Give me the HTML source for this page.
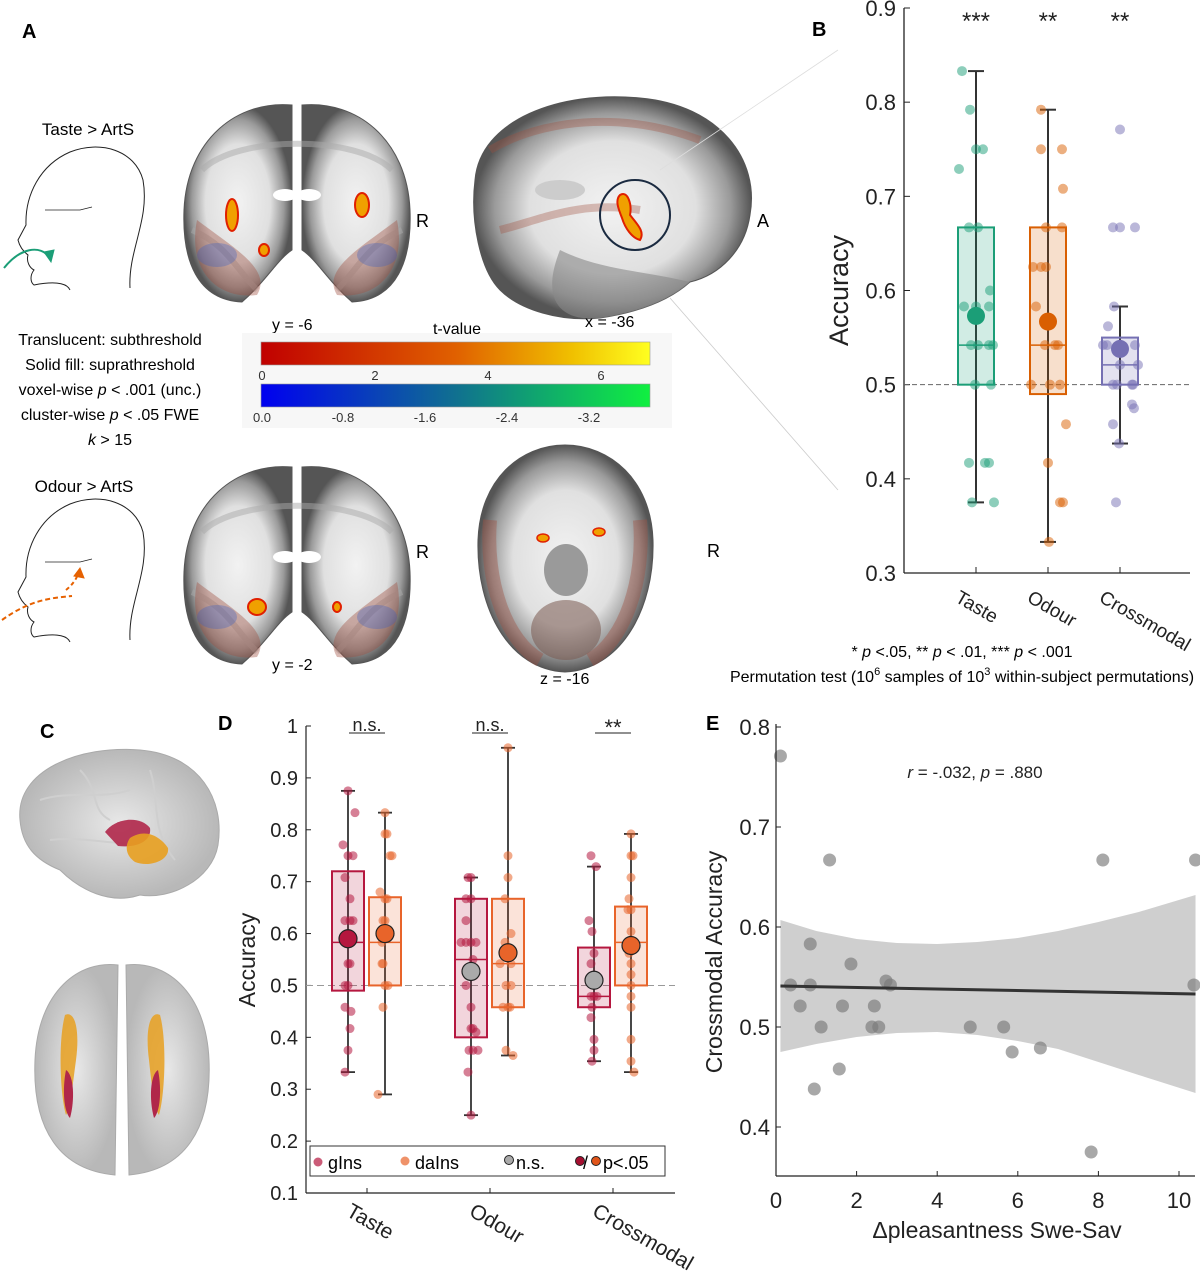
<!DOCTYPE html>
<html><head><meta charset="utf-8"><style>
html,body{margin:0;padding:0;background:#fff}
svg text{font-family:"Liberation Sans",Arial,sans-serif}
</style></head><body>
<svg id="fig" width="1200" height="1282" viewBox="0 0 1200 1282" xmlns="http://www.w3.org/2000/svg">
<defs>
<linearGradient id="hot" x1="0" x2="1"><stop offset="0" stop-color="#c00000"/><stop offset="0.5" stop-color="#e06000"/><stop offset="0.8" stop-color="#f0c000"/><stop offset="1" stop-color="#ffff20"/></linearGradient>
<linearGradient id="cool" x1="0" x2="1"><stop offset="0" stop-color="#0000f0"/><stop offset="0.5" stop-color="#107090"/><stop offset="1" stop-color="#10f040"/></linearGradient>
<radialGradient id="brainG"><stop offset="0" stop-color="#f2f2f2"/><stop offset="0.6" stop-color="#e0e0e0"/><stop offset="0.85" stop-color="#9a9a9a"/><stop offset="1" stop-color="#555"/></radialGradient>
<radialGradient id="glass"><stop offset="0" stop-color="#e8e8e8"/><stop offset="1" stop-color="#b8b8b8"/></radialGradient>
</defs>

<text x="22" y="38" font-size="20" font-weight="bold">A</text>
<text x="88" y="135" font-size="17" text-anchor="middle">Taste &gt; ArtS</text>
<g fill="none" stroke="#222" stroke-width="1">
<path d="M130,288 C128,250 150,220 143,180 C135,150 100,140 70,152 C40,165 25,195 26,225 L18,240 C20,248 24,252 28,255 C26,262 30,268 34,270 C30,275 30,282 34,285 C60,280 68,285 70,290"/>
<path d="M45,210 L80,210 L92,207" stroke-width="0.8"/>
<path d="M4,268 C20,248 40,244 50,258" stroke="#1b9e77" stroke-width="2"/>
<path d="M44,252 L51,262 L54,250 Z" fill="#1b9e77" stroke="#1b9e77"/>
</g>
<text x="110" y="345" font-size="16" text-anchor="middle">Translucent: subthreshold</text>
<text x="110" y="370" font-size="16" text-anchor="middle">Solid fill: suprathreshold</text>
<text x="110" y="395" font-size="16" text-anchor="middle">voxel-wise <tspan font-style="italic">p</tspan> &lt; .001 (unc.)</text>
<text x="110" y="420" font-size="16" text-anchor="middle">cluster-wise <tspan font-style="italic">p</tspan> &lt; .05 FWE</text>
<text x="110" y="445" font-size="16" text-anchor="middle"><tspan font-style="italic">k</tspan> &gt; 15</text>
<text x="84" y="492" font-size="17" text-anchor="middle">Odour &gt; ArtS</text>
<g fill="none" stroke="#222" stroke-width="1">
<path d="M130,640 C128,602 150,572 143,532 C135,502 100,492 70,504 C40,517 25,547 26,577 L18,592 C20,600 24,604 28,607 C26,614 30,620 34,622 C30,627 30,634 34,637 C60,632 68,637 70,642"/>
<path d="M45,562 L80,562 L92,559" stroke-width="0.8"/>
<path d="M2,620 C30,600 50,598 72,596" stroke="#e66101" stroke-width="2" stroke-dasharray="5,3"/>
<path d="M66,590 C72,585 76,580 78,574" stroke="#e66101" stroke-width="2" stroke-dasharray="4,3"/>
<path d="M74,576 L80,568 L84,578 Z" fill="#e66101" stroke="#e66101"/>
</g>

<g id="brains"></g>

<text x="272" y="330" font-size="16">y = -6</text>
<text x="585" y="327" font-size="16">x = -36</text>
<text x="416" y="227" font-size="18">R</text>
<text x="757" y="227" font-size="18">A</text>
<text x="416" y="558" font-size="18">R</text>
<text x="707" y="557" font-size="18">R</text>
<text x="272" y="670" font-size="16">y = -2</text>
<text x="540" y="684" font-size="16">z = -16</text>

<g>
<rect x="242" y="333" width="430" height="95" fill="#f7f7f7"/>
<text x="457" y="334" font-size="16" text-anchor="middle">t-value</text>
<rect x="261" y="342" width="389" height="23" fill="url(#hot)" stroke="#999" stroke-width="0.6"/>
<rect x="261" y="384" width="389" height="23" fill="url(#cool)" stroke="#999" stroke-width="0.6"/>
<g font-size="13" fill="#333" text-anchor="middle">
<text x="262" y="380">0</text><text x="375" y="380">2</text><text x="488" y="380">4</text><text x="601" y="380">6</text>
<text x="262" y="422">0.0</text><text x="343" y="422">-0.8</text><text x="425" y="422">-1.6</text><text x="507" y="422">-2.4</text><text x="589" y="422">-3.2</text>
</g>
</g>
<line x1="670" y1="298" x2="838" y2="490" stroke="#ccc" stroke-width="0.8"/>
<line x1="660" y1="170" x2="838" y2="50" stroke="#ddd" stroke-width="0.8"/>

<text x="812" y="36" font-size="20" font-weight="bold">B</text>
<g id="panelB"></g>
<text x="962" y="657" font-size="16" text-anchor="middle">* <tspan font-style="italic">p</tspan> &lt;.05, ** <tspan font-style="italic">p</tspan> &lt; .01, *** <tspan font-style="italic">p</tspan> &lt; .001</text>
<text x="962" y="682" font-size="16" text-anchor="middle">Permutation test (10<tspan font-size="11" dy="-7">6</tspan><tspan dy="7"> samples of 10</tspan><tspan font-size="11" dy="-7">3</tspan><tspan dy="7"> within-subject permutations)</tspan></text>

<text x="40" y="738" font-size="20" font-weight="bold">C</text>
<g>
<path d="M20,820 C15,770 80,745 140,750 C200,755 225,800 218,845 C212,880 170,900 140,895 C110,905 80,890 60,870 C35,860 22,845 20,820 Z" fill="url(#glass)" stroke="#aaa" stroke-width="1"/>
<path d="M40,800 C70,790 100,800 130,790 M50,840 C90,835 120,850 170,840 M80,770 C100,790 90,810 110,820 M150,770 C160,800 150,830 175,860" stroke="#cfcfcf" fill="none" stroke-width="2"/>
<path d="M105,832 C115,818 140,815 150,828 C152,842 135,848 118,846 Z" fill="#b0274a" opacity="0.9"/>
<path d="M130,838 C145,828 160,836 168,848 C170,860 150,868 135,862 C125,855 125,845 130,838 Z" fill="#e8a020" opacity="0.9"/>
</g>
<g>
<path d="M118,965 C80,960 38,990 35,1060 C32,1130 60,1170 115,1175 Z" fill="url(#glass)" stroke="#aaa"/>
<path d="M126,965 C164,960 206,990 209,1060 C212,1130 184,1170 129,1175 Z" fill="url(#glass)" stroke="#aaa"/>
<path d="M65,1015 C75,1010 80,1030 76,1060 C72,1090 70,1110 66,1115 C60,1095 58,1040 65,1015 Z" fill="#e8a020" opacity="0.85"/>
<path d="M66,1070 C74,1075 75,1100 70,1118 C64,1112 62,1090 66,1070 Z" fill="#b0274a"/>
<path d="M160,1015 C150,1010 145,1030 149,1060 C152,1090 155,1110 159,1115 C165,1095 167,1040 160,1015 Z" fill="#e8a020" opacity="0.85"/>
<path d="M158,1070 C150,1075 149,1100 154,1118 C160,1112 162,1090 158,1070 Z" fill="#b0274a"/>
</g>

<text x="218" y="730" font-size="20" font-weight="bold">D</text>
<g id="panelD"></g>

<text x="706" y="730" font-size="20" font-weight="bold">E</text>
<g id="panelE"></g>
</svg>
<script>
// ---------- Panel B data ----------
const bCategories = ["Taste","Odour","Crossmodal"];
const bQ1 = [0.5,0.49,0.5];
const bMedian = [0.542,0.542,0.521];
const bQ3 = [0.667,0.667,0.55];
const bWhiskLo = [0.375,0.333,0.4375];
const bWhiskHi = [0.833,0.792,0.583];
const bMean = [0.573,0.567,0.538];
const bStars = ["***","**","**"];
const bPointsTaste = [0.833,0.792,0.75,0.75,0.729,0.667,0.667,0.6,0.583,0.583,0.583,0.542,0.542,0.542,0.542,0.5,0.5,0.417,0.417,0.417,0.375,0.375];
const bJitterTaste = [-14,-6,0,7,-17,-7,2,14,-12,0,13,-5,2,13,17,-1,15,-7,9,13,-4,18];
const bPointsOdour = [0.792,0.75,0.75,0.708,0.667,0.667,0.625,0.625,0.625,0.583,0.542,0.542,0.542,0.5,0.5,0.5,0.458,0.417,0.375,0.375,0.333];
const bJitterOdour = [-7,-7,14,15,-2,14,-15,-7,-2,-12,-3,7,10,-17,2,12,18,0,12,15,1];
const bPointsCross = [0.771,0.667,0.667,0.667,0.583,0.562,0.542,0.542,0.542,0.521,0.521,0.5,0.5,0.5,0.5,0.479,0.475,0.458,0.4375,0.375];
const bJitterCross = [0,-7,0,15,-6,-12,-17,-13,15,0,18,-7,-3,12,13,12,14,-7,-1,-4];

// ---------- Panel D data ----------
const dCategories = ["Taste","Odour","Crossmodal"];
const dStars = ["n.s.","n.s.","**"];
const dgQ1=[0.49,0.4,0.458], dgMed=[0.583,0.55,0.479], dgQ3=[0.72,0.667,0.573], dgLo=[0.333,0.25,0.354], dgHi=[0.875,0.708,0.729], dgMean=[0.59,0.527,0.51];
const dgSig=[true,false,false];
const ddQ1=[0.5,0.458,0.5], ddMed=[0.583,0.542,0.583], ddQ3=[0.67,0.667,0.652], ddLo=[0.29,0.365,0.333], ddHi=[0.833,0.958,0.792], ddMean=[0.6,0.563,0.577];
const ddSig=[true,true,true];
const dgPts=[[0.875,0.833,0.771,0.75,0.75,0.708,0.667,0.625,0.625,0.625,0.583,0.542,0.542,0.5,0.5,0.458,0.45,0.417,0.375,0.333],
 [0.708,0.708,0.667,0.667,0.625,0.583,0.583,0.583,0.583,0.55,0.5,0.458,0.417,0.417,0.41,0.375,0.375,0.375,0.333,0.25],
 [0.75,0.729,0.625,0.604,0.562,0.542,0.479,0.479,0.479,0.458,0.438,0.396,0.375,0.354]];
const dgJit=[[0,7,-5,0,5,-3,2,-3,2,5,0,0,2,-3,0,-3,3,2,0,-3],[-3,0,-5,0,-5,-10,-5,0,5,2,-5,0,0,2,5,-2,2,7,-3,0],[-3,2,-5,-2,0,-3,-3,0,3,-2,-3,0,0,-2]];
const ddPts=[[0.833,0.792,0.792,0.75,0.75,0.68,0.667,0.667,0.625,0.625,0.583,0.542,0.542,0.5,0.5,0.458,0.29],
 [0.958,0.75,0.708,0.667,0.6,0.583,0.542,0.542,0.5,0.5,0.458,0.458,0.458,0.375,0.365],
 [0.792,0.75,0.75,0.708,0.667,0.646,0.646,0.604,0.562,0.542,0.521,0.5,0.479,0.458,0.396,0.354,0.333]];
const ddJit=[[0,0,2,5,7,-5,0,2,-2,0,-3,-3,-2,0,3,-2,-7],[0,0,0,-3,3,-3,-8,3,-2,3,-5,0,2,-2,5],[0,0,2,0,-2,-3,0,0,-2,0,0,0,0,0,0,0,3]];

// ---------- Panel E data ----------
const ePleasant=[0.11,1.33,8.11,10.41,0.85,1.86,0.36,0.85,2.73,2.84,10.37,0.6,1.65,2.44,1.12,2.38,2.55,4.82,5.65,5.86,6.56,1.57,0.95,7.82];
const eAccuracy=[0.771,0.667,0.667,0.667,0.583,0.563,0.542,0.542,0.546,0.542,0.542,0.521,0.521,0.521,0.5,0.5,0.5,0.5,0.5,0.475,0.479,0.458,0.438,0.375];
const eFitX=[0.11,10.41];
const eFitY=[0.541,0.533];
const eBandX=[0.11,1,2,3,4,5,6,7,8,9,10.41];
const eBandUpper=[0.607,0.596,0.588,0.584,0.583,0.585,0.589,0.596,0.605,0.615,0.632];
const eBandLower=[0.475,0.483,0.490,0.494,0.495,0.492,0.486,0.478,0.465,0.452,0.434];
const eXTicks=[0,2,4,6,8,10];
const eYTicks=["0.4","0.5","0.6","0.7","0.8"];

const NS="http://www.w3.org/2000/svg";
function mk(parent,tag,attrs,text){const e=document.createElementNS(NS,tag);for(const k in attrs)e.setAttribute(k,attrs[k]);if(text!==undefined)e.textContent=text;parent.appendChild(e);return e;}

// ---------- Brains ----------
(function(){
 const g=document.getElementById('brains');
 function coronal(cx,cy,name,blobs){
  const gg=mk(g,'g',{});
  
  
  mk(gg,'path',{d:`M${cx-5},${cy-105} C${cx-60},${cy-110} ${cx-110},${cy-70} ${cx-113},${cy} C${cx-115},${cy+50} ${cx-100},${cy+90} ${cx-55},${cy+92} C${cx-30},${cy+70} ${cx-20},${cy+50} ${cx-5},${cy+40} Z`,fill:'url(#brainG)',stroke:'#555'});
  mk(gg,'path',{d:`M${cx+5},${cy-105} C${cx+60},${cy-110} ${cx+110},${cy-70} ${cx+113},${cy} C${cx+115},${cy+50} ${cx+100},${cy+90} ${cx+55},${cy+92} C${cx+30},${cy+70} ${cx+20},${cy+50} ${cx+5},${cy+40} Z`,fill:'url(#brainG)',stroke:'#555'});
  mk(gg,'path',{d:`M${cx-95},${cy-40} C${cx-60},${cy-75} ${cx+60},${cy-75} ${cx+95},${cy-40} M${cx-105},${cy+20} C${cx-70},${cy+35} ${cx-60},${cy+60} ${cx-40},${cy+80} M${cx+105},${cy+20} C${cx+70},${cy+35} ${cx+60},${cy+60} ${cx+40},${cy+80}`,fill:'none',stroke:'#aaa','stroke-width':6,opacity:0.5});
  mk(gg,'path',{d:`M${cx-100},${cy+10} C${cx-110},${cy+60} ${cx-80},${cy+90} ${cx-40},${cy+85} C${cx-25},${cy+60} ${cx-60},${cy+40} ${cx-100},${cy+10} Z`,fill:'#a05040',opacity:0.4});
  mk(gg,'path',{d:`M${cx+100},${cy+10} C${cx+110},${cy+60} ${cx+80},${cy+90} ${cx+40},${cy+85} C${cx+25},${cy+60} ${cx+60},${cy+40} ${cx+100},${cy+10} Z`,fill:'#a05040',opacity:0.4});
  mk(gg,'ellipse',{cx:cx-80,cy:cy+45,rx:20,ry:12,fill:'#4060c0',opacity:0.35});
  mk(gg,'ellipse',{cx:cx+80,cy:cy+45,rx:20,ry:12,fill:'#4060c0',opacity:0.35});
  mk(gg,'ellipse',{cx:cx-12,cy:cy-15,rx:12,ry:6,fill:'#fff'});
  mk(gg,'ellipse',{cx:cx+12,cy:cy-15,rx:12,ry:6,fill:'#fff'});
  blobs.forEach(b=>mk(gg,'ellipse',{cx:cx+b[0],cy:cy+b[1],rx:b[2],ry:b[3],fill:'#f0a000',stroke:'#e02000','stroke-width':2}));
 }
 coronal(297,210,'coronal-slice-taste',[[-65,5,6,16],[65,-5,7,12],[-33,40,5,6]]);
 coronal(297,572,'coronal-slice-odour',[[-40,35,9,8],[40,35,4,5]]);
 const s=mk(g,'g',{});
 
 
 mk(s,'path',{d:'M475,180 C480,120 560,90 640,98 C720,105 760,160 750,215 C745,250 720,275 690,282 C670,300 640,312 600,318 C560,322 520,310 500,290 C480,270 470,220 475,180 Z',fill:'url(#brainG)',stroke:'#555'});
 mk(s,'path',{d:'M560,250 C600,270 640,270 690,282 C670,300 640,312 600,318 C560,322 540,300 560,250 Z',fill:'#888',opacity:0.6});
 mk(s,'path',{d:'M490,150 C540,120 620,110 700,140 M500,230 C540,220 580,200 640,210',fill:'none',stroke:'#a05040','stroke-width':8,opacity:0.35});
 mk(s,'ellipse',{cx:560,cy:190,rx:25,ry:10,fill:'#ccc'});
 mk(s,'circle',{cx:635,cy:215,r:35,fill:'none',stroke:'#1a2a40','stroke-width':2});
 mk(s,'path',{d:'M620,195 C628,190 632,205 630,215 C638,225 645,232 640,240 C632,238 625,228 622,218 C618,208 615,200 620,195 Z',fill:'#f0a000',stroke:'#e02000','stroke-width':2});
 const a=mk(g,'g',{});
 
 
 mk(a,'path',{d:'M565,445 C520,445 480,480 478,540 C476,610 510,670 565,672 C620,670 655,610 653,540 C651,480 610,445 565,445 Z',fill:'url(#brainG)',stroke:'#555'});
 mk(a,'ellipse',{cx:566,cy:570,rx:22,ry:26,fill:'#9a9a9a'});
 mk(a,'ellipse',{cx:566,cy:630,rx:35,ry:30,fill:'#7a5a50',opacity:0.55});
 mk(a,'path',{d:'M490,520 C485,580 505,640 540,660 M640,520 C645,580 625,640 590,660',fill:'none',stroke:'#a05040','stroke-width':14,opacity:0.4});
 mk(a,'ellipse',{cx:543,cy:538,rx:6,ry:4,fill:'#f0a000',stroke:'#e02000','stroke-width':1.5});
 mk(a,'ellipse',{cx:599,cy:532,rx:6,ry:4,fill:'#f0a000',stroke:'#e02000','stroke-width':1.5});
})();

// ---------- Panel B ----------
(function(){
 const g=document.getElementById('panelB');
 const X0=904,X1=1190,Ytop=8,Ybot=573;
 const yB=v=>Ytop+(0.9-v)/0.6*(Ybot-Ytop);
 const xB=i=>976+72*i;
 const cols=["#1b9e77","#d95f02","#7570b3"];
 const pts=[bPointsTaste,bPointsOdour,bPointsCross], jit=[bJitterTaste,bJitterOdour,bJitterCross];
 mk(g,'line',{x1:X0,y1:Ytop,x2:X0,y2:Ybot,stroke:'#222','stroke-width':1.3});
 mk(g,'line',{x1:X0,y1:Ybot,x2:X1,y2:Ybot,stroke:'#222','stroke-width':1.3});
 for(let k=0;k<=6;k++){const v=0.3+k*0.1,y=yB(v);
  mk(g,'line',{x1:X0,y1:y,x2:X0+6,y2:y,stroke:'#222'});
  const t=mk(g,'text',{x:X0-8,y:y+8,'font-size':22,'text-anchor':'end',fill:'#222'},v.toFixed(1));
  
  
 }
 const yl=mk(g,'text',{x:848,y:yB(0.6),'font-size':27,'text-anchor':'middle',transform:`rotate(-90 848 ${yB(0.6)})`,fill:'#222'},'Accuracy');
 
 
 const ch=mk(g,'line',{x1:X0,y1:yB(0.5),x2:X1,y2:yB(0.5),stroke:'#666','stroke-dasharray':'5,3'});
 
 
 bCategories.forEach((c,i)=>{
  const x=xB(i),c0=cols[i];
  mk(g,'line',{x1:x,y1:Ybot,x2:x,y2:Ybot-6,stroke:'#222'});
  const w=mk(g,'line',{x1:x,y1:yB(bWhiskLo[i]),x2:x,y2:yB(bWhiskHi[i]),stroke:'#333','stroke-width':2});
  
  
  mk(g,'line',{x1:x-8,y1:yB(bWhiskLo[i]),x2:x+8,y2:yB(bWhiskLo[i]),stroke:'#333','stroke-width':2});
  mk(g,'line',{x1:x-8,y1:yB(bWhiskHi[i]),x2:x+8,y2:yB(bWhiskHi[i]),stroke:'#333','stroke-width':2});
  const b=mk(g,'rect',{x:x-18,y:yB(bQ3[i]),width:36,height:yB(bQ1[i])-yB(bQ3[i]),fill:c0,'fill-opacity':0.2,stroke:c0,'stroke-width':2});
  
  
  mk(g,'line',{x1:x-18,y1:yB(bMedian[i]),x2:x+18,y2:yB(bMedian[i]),stroke:c0,'stroke-width':1.5});
  pts[i].forEach((v,j)=>{const p=mk(g,'circle',{cx:x+jit[i][j],cy:yB(v),r:5,fill:c0,'fill-opacity':0.5});
   
   });
  const m=mk(g,'circle',{cx:x,cy:yB(bMean[i]),r:9,fill:c0});
  
  
  const s=mk(g,'text',{x:x,y:29,'font-size':24,'text-anchor':'middle',fill:'#222'},bStars[i]);
  
  
  const l=mk(g,'text',{x:x-22,y:Ybot+28,'font-size':19,transform:`rotate(30 ${x-22} ${Ybot+28})`,fill:'#222'},c);
  
  
 });
})();

// ---------- Panel D ----------
(function(){
 const g=document.getElementById('panelD');
 const X0=306,X1=675,Ytop=726,Ybot=1193;
 const yD=v=>Ytop+(1-v)/0.9*(Ybot-Ytop);
 const xD=i=>367+123*i;
 mk(g,'line',{x1:X0,y1:Ytop,x2:X0,y2:Ybot,stroke:'#222','stroke-width':1.2});
 mk(g,'line',{x1:X0,y1:Ybot,x2:X1,y2:Ybot,stroke:'#222','stroke-width':1.2});
 for(let k=1;k<=10;k++){const v=k/10,y=yD(v);
  mk(g,'line',{x1:X0,y1:y,x2:X0+5,y2:y,stroke:'#222'});
  const t=mk(g,'text',{x:X0-8,y:y+7,'font-size':20,'text-anchor':'end',fill:'#222'},k===10?'1':v.toFixed(1));
  
  
 }
 const yl=mk(g,'text',{x:255,y:960,'font-size':23,'text-anchor':'middle',transform:'rotate(-90 255 960)',fill:'#222'},'Accuracy');
 
 
 mk(g,'line',{x1:X0,y1:yD(0.5),x2:X1,y2:yD(0.5),stroke:'#999','stroke-dasharray':'7,4'});
 function box(x,c,q1,med,q3,lo,hi,pts,jit,mean,sig,name){
  mk(g,'line',{x1:x,y1:yD(lo),x2:x,y2:yD(hi),stroke:'#333','stroke-width':1.8});
  mk(g,'line',{x1:x-7,y1:yD(lo),x2:x+7,y2:yD(lo),stroke:'#333','stroke-width':1.8});
  mk(g,'line',{x1:x-7,y1:yD(hi),x2:x+7,y2:yD(hi),stroke:'#333','stroke-width':1.8});
  const b=mk(g,'rect',{x:x-16,y:yD(q3),width:32,height:yD(q1)-yD(q3),fill:c,'fill-opacity':0.18,stroke:c,'stroke-width':2});
  
  
  mk(g,'line',{x1:x-16,y1:yD(med),x2:x+16,y2:yD(med),stroke:c,'stroke-width':1.5});
  pts.forEach((v,j)=>{const p=mk(g,'circle',{cx:x+jit[j],cy:yD(v),r:4.5,fill:c,'fill-opacity':0.55});
   
   });
  const m=mk(g,'circle',{cx:x,cy:yD(mean),r:9,fill:sig?c:'#aaa',stroke:'#222','stroke-width':1.2});
  
  
 }
 dCategories.forEach((c,i)=>{
  const x=xD(i);
  mk(g,'line',{x1:x,y1:Ybot,x2:x,y2:Ybot-5,stroke:'#222'});
  box(x-19,'#b5173f',dgQ1[i],dgMed[i],dgQ3[i],dgLo[i],dgHi[i],dgPts[i],dgJit[i],dgMean[i],dgSig[i],'d-box-gins-'+c.toLowerCase());
  box(x+18,'#e8642a',ddQ1[i],ddMed[i],ddQ3[i],ddLo[i],ddHi[i],ddPts[i],ddJit[i],ddMean[i],ddSig[i],'d-box-dains-'+c.toLowerCase());
  const s=mk(g,'text',{x:x,y:i===2?735:731,'font-size':i===2?22:18,'text-anchor':'middle',fill:'#222'},dStars[i]);
  
  
  mk(g,'line',{x1:x-18,y1:733,x2:x+18,y2:733,stroke:'#222'});
  const l=mk(g,'text',{x:x-22,y:Ybot+22,'font-size':21,transform:`rotate(30 ${x-22} ${Ybot+22})`,fill:'#222'},c);
  
  
 });
 const lg=mk(g,'g',{});
 
 
 mk(lg,'rect',{x:310,y:1146,width:355,height:30,fill:'#fff',stroke:'#333'});
 mk(lg,'circle',{cx:318,cy:1162,r:4.5,fill:'#b5173f','fill-opacity':0.7});
 mk(lg,'text',{x:328,y:1169,'font-size':18},'gIns');
 mk(lg,'circle',{cx:405,cy:1161,r:4.5,fill:'#e8642a','fill-opacity':0.7});
 mk(lg,'text',{x:415,y:1169,'font-size':18},'daIns');
 mk(lg,'circle',{cx:509,cy:1160,r:4.5,fill:'#aaa',stroke:'#222'});
 mk(lg,'text',{x:516,y:1169,'font-size':18},'n.s.');
 mk(lg,'circle',{cx:580,cy:1161,r:4.5,fill:'#a50f30',stroke:'#222'});
 mk(lg,'text',{x:583,y:1169,'font-size':18},'/');
 mk(lg,'circle',{cx:596,cy:1161,r:4.5,fill:'#e0551a',stroke:'#222'});
 mk(lg,'text',{x:603,y:1169,'font-size':18},'p<.05');
})();

// ---------- Panel E ----------
(function(){
 const g=document.getElementById('panelE');
 const X0=776,X1=1195,Ytop=727,Ybot=1176;
 const xE=v=>776+v*40.3;
 const yE=v=>727+(0.8-v)*1000;
 let d='M'+eBandX.map((x,i)=>xE(x)+','+yE(eBandUpper[i])).join(' L');
 for(let i=eBandX.length-1;i>=0;i--) d+=' L'+xE(eBandX[i])+','+yE(eBandLower[i]);
 const band=mk(g,'path',{d:d+' Z',fill:'#cfcfcf'});
 
 
 ePleasant.forEach((x,i)=>{const p=mk(g,'circle',{cx:xE(x),cy:yE(eAccuracy[i]),r:6.5,fill:'#7a7a7a','fill-opacity':0.65});
  
  });
 const fl=mk(g,'line',{x1:xE(eFitX[0]),y1:yE(eFitY[0]),x2:xE(eFitX[1]),y2:yE(eFitY[1]),stroke:'#333','stroke-width':3});
 
 
 mk(g,'line',{x1:X0,y1:Ytop-3,x2:X0,y2:Ybot,stroke:'#222','stroke-width':1.2});
 mk(g,'line',{x1:X0,y1:Ybot,x2:X1,y2:Ybot,stroke:'#222','stroke-width':1.2});
 eYTicks.forEach(t=>{const y=yE(parseFloat(t));
  mk(g,'line',{x1:X0,y1:y,x2:X0+5,y2:y,stroke:'#222'});
  const tt=mk(g,'text',{x:X0-6,y:y+8,'font-size':22,'text-anchor':'end',fill:'#222'},t);
  
  });
 eXTicks.forEach(t=>{const x=xE(t);
  mk(g,'line',{x1:x,y1:Ybot,x2:x,y2:Ybot-5,stroke:'#222'});
  const tt=mk(g,'text',{x:x,y:Ybot+32,'font-size':22,'text-anchor':'middle',fill:'#222'},String(t));
  
  });
 const xt=mk(g,'text',{x:997,y:1238,'font-size':23,'text-anchor':'middle',fill:'#222'},'Δpleasantness Swe-Sav');
 
 
 const yt=mk(g,'text',{x:722,y:962,'font-size':23,'text-anchor':'middle',transform:'rotate(-90 722 962)',fill:'#222'},'Crossmodal Accuracy');
 
 
 const an=mk(g,'text',{x:975,y:778,'font-size':17,'text-anchor':'middle',fill:'#222'});
 
 
 an.innerHTML='<tspan font-style="italic">r</tspan> = -.032, <tspan font-style="italic">p</tspan> = .880';
})();
</script>
</body></html>
